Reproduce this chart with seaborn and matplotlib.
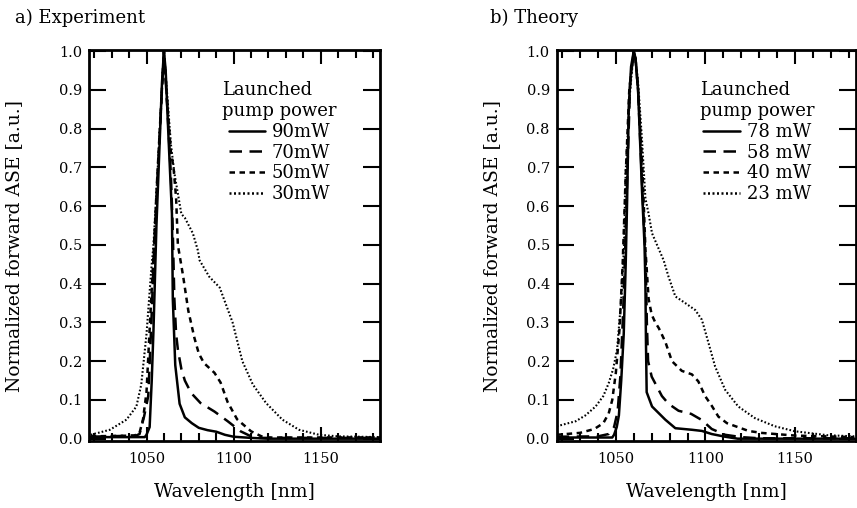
import numpy as np
import pandas as pd
import matplotlib
matplotlib.use("Agg")
import matplotlib.pyplot as plt
import seaborn as sns
from matplotlib.ticker import MultipleLocator

sns.set_style("ticks")
plt.rcParams['font.family'] = ['DejaVu Serif']
plt.rcParams['text.color'] = 'black'
plt.rcParams['axes.labelcolor'] = 'black'
plt.rcParams['legend.labelcolor'] = 'black'

# ---------------- Experiment data ----------------
exp_labels = ["90mW", "70mW", "50mW", "30mW"]
exp_90_x = [1018, 1049, 1050, 1051.8, 1053, 1054, 1055.7, 1058.9, 1060, 1061, 1062.7, 1064.6, 1065.1, 1066.5,
            1069, 1072, 1076, 1080, 1085, 1090, 1095, 1100, 1110, 1120, 1184]
exp_90_y = [0.004, 0.004, 0.01, 0.03, 0.15, 0.28, 0.55, 0.92, 1.0, 0.95, 0.77, 0.58, 0.36, 0.19,
            0.09, 0.055, 0.04, 0.028, 0.022, 0.018, 0.01, 0.005, 0.002, 0.0, 0.0]
exp_70_x = [1018, 1044, 1046, 1048.6, 1051, 1052.8, 1054, 1056, 1060, 1062, 1064, 1065, 1066, 1067, 1068,
            1070, 1072, 1075.6, 1081, 1089, 1096.6, 1104, 1110, 1115, 1184]
exp_70_y = [0.005, 0.008, 0.012, 0.057, 0.11, 0.30, 0.45, 0.65, 1.0, 0.85, 0.68, 0.55, 0.36, 0.27, 0.23,
            0.18, 0.15, 0.118, 0.092, 0.07, 0.045, 0.019, 0.006, 0.002, 0.002]
exp_50_x = [1018, 1043, 1046, 1048, 1050, 1052, 1054, 1056, 1060, 1062, 1064, 1065.5, 1067, 1068, 1071, 1074,
            1077.5, 1080, 1083, 1089, 1092.5, 1096.5, 1102, 1110, 1116, 1120, 1184]
exp_50_y = [0.006, 0.008, 0.015, 0.05, 0.12, 0.30, 0.47, 0.66, 1.0, 0.86, 0.74, 0.70, 0.62, 0.50, 0.42, 0.33,
            0.26, 0.22, 0.195, 0.17, 0.145, 0.095, 0.05, 0.019, 0.006, 0.003, 0.003]
exp_30_x = [1018, 1029, 1038.5, 1044.2, 1047, 1050, 1052.8, 1054, 1056, 1060, 1062, 1064, 1066, 1070, 1072,
            1076.6, 1079.4, 1080.5, 1086, 1092, 1099.4, 1105, 1111, 1118.6, 1128, 1137.5, 1149, 1160, 1184]
exp_30_y = [0.01, 0.023, 0.049, 0.083, 0.14, 0.27, 0.44, 0.50, 0.66, 1.0, 0.88, 0.76, 0.685, 0.58, 0.57,
            0.53, 0.487, 0.46, 0.418, 0.39, 0.30, 0.20, 0.14, 0.092, 0.049, 0.023, 0.01, 0.006, 0.004]

# ---------------- Theory data ----------------
th_labels = ["78 mW", "58 mW", "40 mW", "23 mW"]
th_78_x = [1017, 1048, 1049, 1050.5, 1051.7, 1053, 1054.4, 1055.5, 1056.3, 1057.2, 1058.5, 1060, 1061, 1062.4,
           1064.6, 1066, 1066.5, 1066.8, 1067.2, 1070.2, 1073.9, 1077.6, 1083.2, 1092.4, 1098, 1103.5, 1111,
           1118, 1183]
th_78_y = [0.003, 0.003, 0.01, 0.03, 0.06, 0.15, 0.27, 0.45, 0.616, 0.856, 0.96, 1.0, 0.98, 0.9,
           0.64, 0.5, 0.40, 0.25, 0.12, 0.083, 0.066, 0.049, 0.027, 0.023, 0.02, 0.012, 0.005,
           0.0, 0.0]
th_58_x = [1017, 1040, 1046, 1049, 1051, 1052.5, 1054, 1055.3, 1056.5, 1058, 1060, 1061, 1062.4, 1064.8,
           1066.7, 1067.3, 1068, 1070, 1075.7, 1079.4, 1085, 1092, 1098, 1103.5, 1111, 1120, 1130, 1183]
th_58_y = [0.005, 0.006, 0.012, 0.03, 0.07, 0.16, 0.32, 0.5, 0.7, 0.92, 1.0, 0.98, 0.9, 0.64,
           0.45, 0.3, 0.2, 0.16, 0.11, 0.09, 0.072, 0.064, 0.048, 0.025, 0.01, 0.004, 0.001, 0.001]
th_40_x = [1017, 1030, 1038, 1043, 1046, 1048, 1050, 1052, 1053.8, 1055.5, 1057.5, 1060, 1061, 1062.4,
           1064.8, 1066.5, 1068.3, 1070, 1072, 1074, 1077.6, 1081.3, 1086.8, 1092.4, 1096, 1099.8, 1103.5,
           1107.2, 1112, 1118, 1124, 1131, 1150, 1183]
th_40_y = [0.01, 0.015, 0.025, 0.04, 0.065, 0.10, 0.17, 0.28, 0.45, 0.68, 0.9, 1.0, 0.98, 0.9,
           0.7, 0.49, 0.36, 0.32, 0.30, 0.285, 0.25, 0.2, 0.175, 0.166, 0.148, 0.11, 0.085,
           0.057, 0.04, 0.03, 0.02, 0.015, 0.008, 0.004]
th_23_x = [1017, 1027.6, 1033, 1038.7, 1043, 1046, 1048.5, 1050.7, 1053, 1054.5, 1055.5, 1058, 1060, 1061,
           1062.4, 1064.6, 1066.5, 1068.3, 1070.2, 1073.9, 1076.7, 1079.4, 1083.2, 1088.7, 1094.3, 1098,
           1101.7, 1105.4, 1111, 1118.3, 1127.6, 1138.7, 1150, 1168, 1183]
th_23_y = [0.032, 0.045, 0.06, 0.083, 0.11, 0.143, 0.18, 0.23, 0.36, 0.49, 0.69, 0.9, 1.0, 0.98,
           0.92, 0.77, 0.62, 0.58, 0.53, 0.49, 0.46, 0.418, 0.367, 0.35, 0.332, 0.307,
           0.247, 0.186, 0.126, 0.083, 0.053, 0.032, 0.019, 0.009, 0.006]

styles = ['-', (0, (5, 3)), (0, (2.2, 1.8)), (0, (0.8, 1.0))]
widths = [1.8, 1.8, 1.8, 1.5]

fig = plt.figure(figsize=(8.57, 5.08), dpi=100)
W, H = 857, 508
ax1 = fig.add_axes([89 / W, (H - 441) / H, 291 / W, 391 / H])
ax2 = fig.add_axes([556.7 / W, (H - 441) / H, 299.3 / W, 391 / H])

exp_series = [(exp_90_x, exp_90_y), (exp_70_x, exp_70_y), (exp_50_x, exp_50_y), (exp_30_x, exp_30_y)]
th_series = [(th_78_x, th_78_y), (th_58_x, th_58_y), (th_40_x, th_40_y), (th_23_x, th_23_y)]

FS = 13.5
LFS = 13
for ax, series, labels, lx, title in [
        (ax1, exp_series, exp_labels, 0.655, "a) Experiment"),
        (ax2, th_series, th_labels, 0.67, "b) Theory")]:
    for (xs, ys), lab, ls, lw in zip(series, labels, styles, widths):
        df = pd.DataFrame({"wl": xs, "ase": ys})
        sns.lineplot(data=df, x="wl", y="ase", ax=ax, color="black", linestyle=ls,
                     linewidth=lw, label=lab, estimator=None, sort=False)
    ax.set_xlim(1017, 1184)
    ax.set_ylim(-0.006, 1.003)
    ax.xaxis.set_major_locator(MultipleLocator(50))
    ax.xaxis.set_minor_locator(MultipleLocator(10))
    ax.yaxis.set_major_locator(MultipleLocator(0.1))
    ax.yaxis.set_major_formatter(matplotlib.ticker.FormatStrFormatter('%.1f'))
    ax.tick_params(axis='both', which='both', direction='in', top=True, right=True,
                   labelsize=10.5, color='black', labelcolor='black')
    ax.tick_params(axis='x', which='major', length=10, width=1.5, pad=8)
    ax.tick_params(axis='x', which='minor', length=6, width=1.5)
    ax.tick_params(axis='y', which='major', length=12, width=1.5, pad=5)
    for sp in ax.spines.values():
        sp.set_linewidth(2.0)
        sp.set_color('black')
    ax.set_xlabel("Wavelength [nm]", fontsize=FS, color='black')
    ax.set_ylabel("Normalized forward ASE [a.u.]", fontsize=FS, color='black')
    ax.xaxis.set_label_coords(0.5, -0.108)
    leg = ax.legend(title="Launched\npump power", loc="upper center", bbox_to_anchor=(lx, 0.952),
                    frameon=False, fontsize=LFS, title_fontsize=LFS, handlelength=2.0,
                    handletextpad=0.4, labelspacing=0.15, borderpad=0.2)
    leg.get_title().set_color('black')
    for t in leg.get_texts():
        t.set_color('black')
    for l in leg.get_lines():
        l.set_linewidth(1.8)

ax1.yaxis.set_label_coords(-0.227, 0.5)
ax2.yaxis.set_label_coords(-0.186, 0.5)

fig.text(15 / W, 1 - 18 / H, "a) Experiment", fontsize=LFS, va="center", ha="left", color='black')
fig.text(490 / W, 1 - 18 / H, "b) Theory", fontsize=LFS, va="center", ha="left", color='black')

fig.savefig("out.png", dpi=100, facecolor="white")
